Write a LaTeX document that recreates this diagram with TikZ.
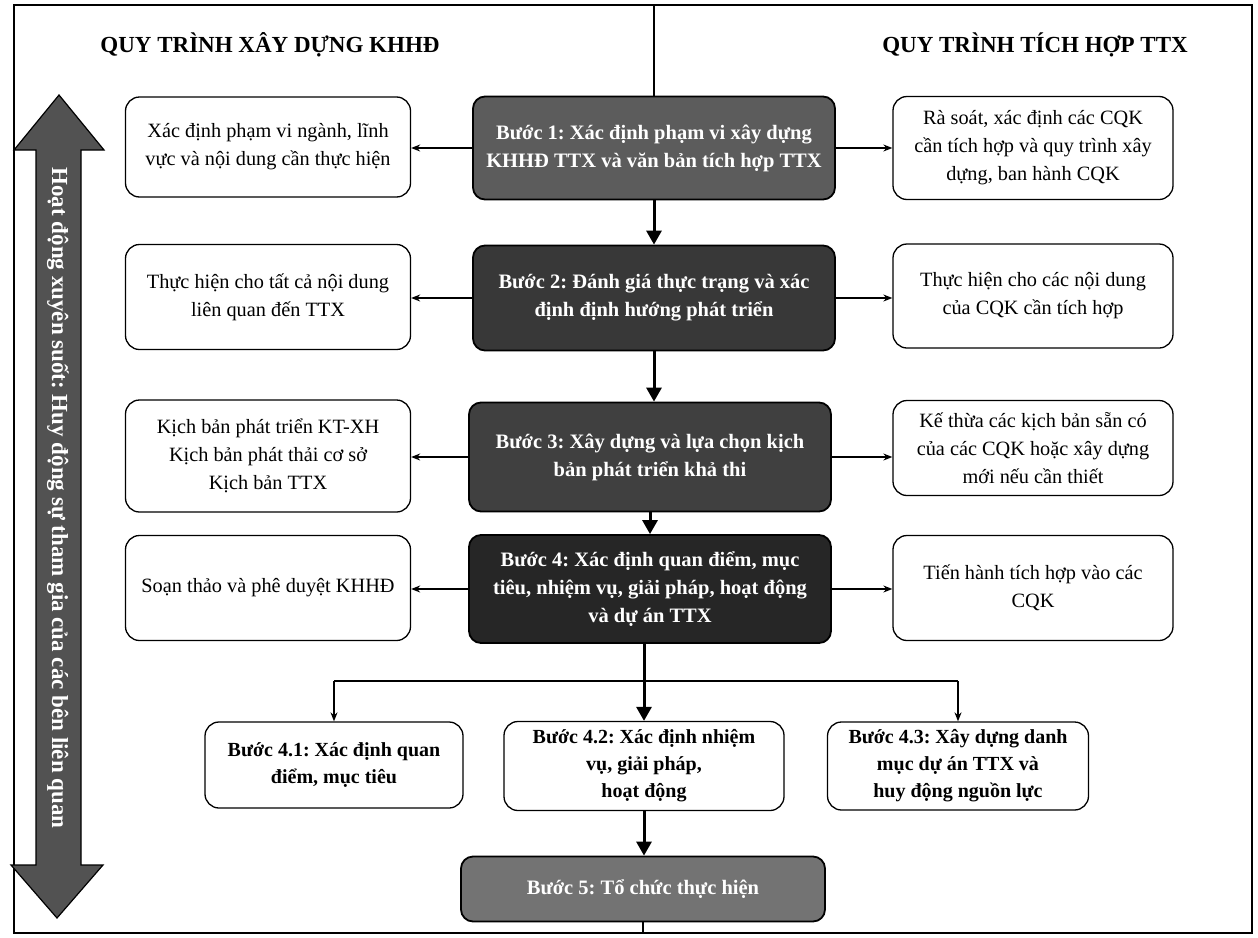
\documentclass[tikz,border=0pt]{standalone}
\usepackage{fontspec}
\setmainfont{Liberation Serif}
\usetikzlibrary{arrows.meta}
\definecolor{sone}{gray}{0.36}
\definecolor{stwo}{gray}{0.22}
\definecolor{sthree}{gray}{0.25}
\definecolor{sfour}{gray}{0.15}
\definecolor{sfive}{gray}{0.45}
\definecolor{arrowfill}{gray}{0.32}
\begin{document}
\frenchspacing
\begin{tikzpicture}[x=1pt,y=-1pt,
  sidebox/.style={draw, line width=1.3pt, rounded corners=14pt, fill=white, align=center,
    font=\fontsize{20.3}{28}\selectfont, inner sep=2pt},
  stepbox/.style={draw, line width=1.8pt, rounded corners=12pt, align=center, text=white,
    font=\bfseries\fontsize{20.5}{28}\selectfont, inner sep=2pt, minimum width=362pt},
  subbox/.style={draw, line width=1.3pt, rounded corners=14pt, fill=white, align=center,
    font=\bfseries\fontsize{20}{27}\selectfont, inner sep=2pt},
  titlestyle/.style={font=\bfseries\fontsize{23}{27}\selectfont},
  thin arrow/.style={line width=1.4pt, -{Stealth[length=9pt,width=7pt]}},
  thick arrow/.style={line width=3pt, -{Triangle[length=14pt,width=15pt]}},
  plain line/.style={line width=1.4pt}]
\useasboundingbox (0,0) rectangle (1258,937);
\fill[white] (0,0) rectangle (1258,937);

% frame corners
\coordinate (ftl) at (14,5);
\coordinate (fbr) at (1252,933);
\draw[line width=1.4pt] (ftl) rectangle (fbr);

% titles
\node[titlestyle] (t1) at (270,45) {QUY TRÌNH XÂY DỰNG KHHĐ};
\node[titlestyle] (t2) at (1035,45) {QUY TRÌNH TÍCH HỢP TTX};

% double arrow
\filldraw[fill=arrowfill, draw=black, line width=1.2pt]
  (59,95) -- (104,150) -- (81,150) -- (81,865) -- (103,865) -- (57,918)
  -- (11,865) -- (36,865) -- (36,150) -- (14,150) -- cycle;
\node[rotate=-90, text=white, font=\bfseries\fontsize{23}{26}\selectfont] (side) at (58,498)
  {Hoạt động xuyên suốt: Huy động sự tham gia của các bên liên quan};

% step boxes
\node[stepbox, fill=sone, minimum height=103pt] (s1) at (654,148)
  {Bước 1: Xác định phạm vi xây dựng\\KHHĐ TTX và văn bản tích hợp TTX};
\node[stepbox, fill=stwo, minimum height=105pt] (s2) at (654,298)
  {Bước 2: Đánh giá thực trạng và xác\\định định hướng phát triển};
\node[stepbox, fill=sthree, minimum height=109pt] (s3) at (650,457)
  {Bước 3: Xây dựng và lựa chọn kịch\\bản phát triển khả thi};
\node[stepbox, fill=sfour, minimum height=108pt] (s4) at (650,589)
  {Bước 4: Xác định quan điểm, mục\\tiêu, nhiệm vụ, giải pháp, hoạt động\\và dự án TTX};
\node[stepbox, fill=sfive, minimum height=65pt, minimum width=364pt] (s5) at (643,889)
  {Bước 5: Tổ chức thực hiện};

% left boxes
\node[sidebox, minimum width=285pt, minimum height=100pt] (l1) at (268,147)
  {Xác định phạm vi ngành, lĩnh\\vực và nội dung cần thực hiện};
\node[sidebox, minimum width=285pt, minimum height=105pt] (l2) at (268,297)
  {Thực hiện cho tất cả nội dung\\liên quan đến TTX};
\node[sidebox, minimum width=285pt, minimum height=112pt] (l3) at (268,456)
  {Kịch bản phát triển KT-XH\\Kịch bản phát thải cơ sở\\Kịch bản TTX};
\node[sidebox, minimum width=285pt, minimum height=105pt] (l4) at (268,588)
  {Soạn thảo và phê duyệt KHHĐ};

% right boxes
\node[sidebox, minimum width=280pt, minimum height=103pt] (r1) at (1033,148)
  {Rà soát, xác định các CQK\\cần tích hợp và quy trình xây\\dựng, ban hành CQK};
\node[sidebox, minimum width=280pt, minimum height=104pt] (r2) at (1033,296)
  {Thực hiện cho các nội dung\\của CQK cần tích hợp};
\node[sidebox, minimum width=280pt, minimum height=95pt] (r3) at (1033,448)
  {Kế thừa các kịch bản sẵn có\\của các CQK hoặc xây dựng\\mới nếu cần thiết};
\node[sidebox, minimum width=280pt, minimum height=105pt] (r4) at (1033,588)
  {Tiến hành tích hợp vào các\\CQK};

% sub-steps
\node[subbox, minimum width=258pt, minimum height=86pt] (b41) at (334,765)
  {Bước 4.1: Xác định quan\\điểm, mục tiêu};
\node[subbox, minimum width=280pt, minimum height=89pt] (b42) at (644,766)
  {Bước 4.2: Xác định nhiệm\\vụ, giải pháp,\\hoạt động};
\node[subbox, minimum width=261pt, minimum height=88pt] (b43) at (958,766)
  {Bước 4.3: Xây dựng danh\\mục dự án TTX và\\huy động nguồn lực};

% center divider segments
\coordinate (dtop) at (s1.north |- ftl);
\coordinate (dbot) at (s5.south |- fbr);
\draw[plain line] (s1.north) -- (dtop);
\draw[plain line] (s5.south) -- (dbot);

% side arrows
\foreach \s/\l/\r in {s1/l1/r1, s2/l2/r2, s3/l3/r3, s4/l4/r4}{
  \draw[thin arrow] (\s.west) -- (\l.east |- \s.west);
  \draw[thin arrow] (\s.east) -- (\r.west |- \s.east);
}

% main flow
\draw[thick arrow] (s1.south) -- (s2.north);
\draw[thick arrow] (s2.south) -- (s3.north -| s2.south);
\draw[thick arrow] (s3.south) -- (s4.north);
\draw[thick arrow] (b42.north |- s4.south) -- (b42.north);
\draw[thick arrow] (b42.south) -- (s5.north -| b42.south);

% branch
\coordinate (bl) at (b41.north |- 0,681);
\coordinate (br) at (b43.north |- 0,681);
\draw[plain line] (bl) -- (br);
\draw[thin arrow] (bl) -- (b41.north);
\draw[thin arrow] (br) -- (b43.north);
\end{tikzpicture}
\end{document}
